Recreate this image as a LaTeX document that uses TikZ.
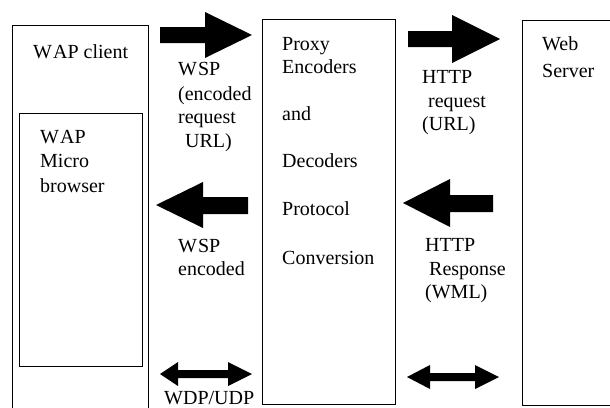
\documentclass[tikz,border=0pt]{standalone}
\usepackage{fontspec}
\setmainfont{Liberation Serif}
\begin{document}
\begin{tikzpicture}[x=1pt,y=-1pt,
  lbl/.style={anchor=base west, inner sep=0pt, font=\fontsize{20}{24}\selectfont},
  box/.style={draw, line width=0.8pt},
  blk/.style={fill=black}]
\useasboundingbox (0,0) rectangle (610,407);
\begin{scope}
\clip (0,0) rectangle (610,407);
\draw[box] (12,25) rectangle (148,430);
\draw[box] (19,113) rectangle (142,366);
\draw[box] (262,19) rectangle (395,404);
\draw[box] (522,20) rectangle (630,405);
\end{scope}
% block arrows
\fill[blk] (160,27) -- (205,27) -- (205,12) -- (252,35) -- (205,58) -- (205,43) -- (160,43) -- cycle;
\fill[blk] (408,31) -- (452,31) -- (452,15) -- (500,39) -- (452,63) -- (452,47) -- (408,47) -- cycle;
\fill[blk] (248,197) -- (203,197) -- (203,182) -- (156,205) -- (203,228) -- (203,214) -- (248,214) -- cycle;
\fill[blk] (493,195) -- (450,195) -- (450,179) -- (403,203) -- (450,227) -- (450,212) -- (493,212) -- cycle;
\fill[blk] (160,374) -- (178,362) -- (178,370) -- (228,370) -- (228,362) -- (252,374) -- (228,386) -- (228,378) -- (178,378) -- (178,386) -- cycle;
\fill[blk] (407,377) -- (430,365) -- (430,373) -- (475,373) -- (475,365) -- (499,377) -- (475,389) -- (475,381) -- (430,381) -- (430,389) -- cycle;
% labels
\node[lbl] (wc) at (33,58) {W\kern1ptAP client};
\node[lbl] (w1) at (40,143) {W\kern1ptAP};
\node[lbl] (w2) at (40,167) {Micro};
\node[lbl] (w3) at (40,192) {browser};
\node[lbl] (a1) at (178,75) {W\kern1ptSP};
\node[lbl] (a2) at (178,100) {(encoded};
\node[lbl] (a3) at (178,123) {request};
\node[lbl] (a4) at (185,147) {URL)};
\node[lbl] (b1) at (178,252) {W\kern1ptSP};
\node[lbl] (b2) at (178,275) {encoded};
\node[lbl] (p1) at (282,50) {Proxy};
\node[lbl] (p2) at (282,73) {Encoders};
\node[lbl] (p3) at (282,120) {and};
\node[lbl] (p4) at (282,167) {Decoders};
\node[lbl] (p5) at (282,215) {Protocol};
\node[lbl] (p6) at (282,264) {Conversion};
\node[lbl] (h1) at (422,83) {HTTP};
\node[lbl] (h2) at (428,107) {request};
\node[lbl] (h3) at (422,130) {(URL)};
\node[lbl] (r1) at (425,251) {HTTP};
\node[lbl] (r2) at (429,275) {Response};
\node[lbl] (r3) at (425,298) {(WML)};
\node[lbl] (s1) at (542,50) {Web};
\node[lbl] (s2) at (542,77) {Server};
\node[lbl] (u1) at (164,404) {WDP/UDP};
\end{tikzpicture}
\end{document}
